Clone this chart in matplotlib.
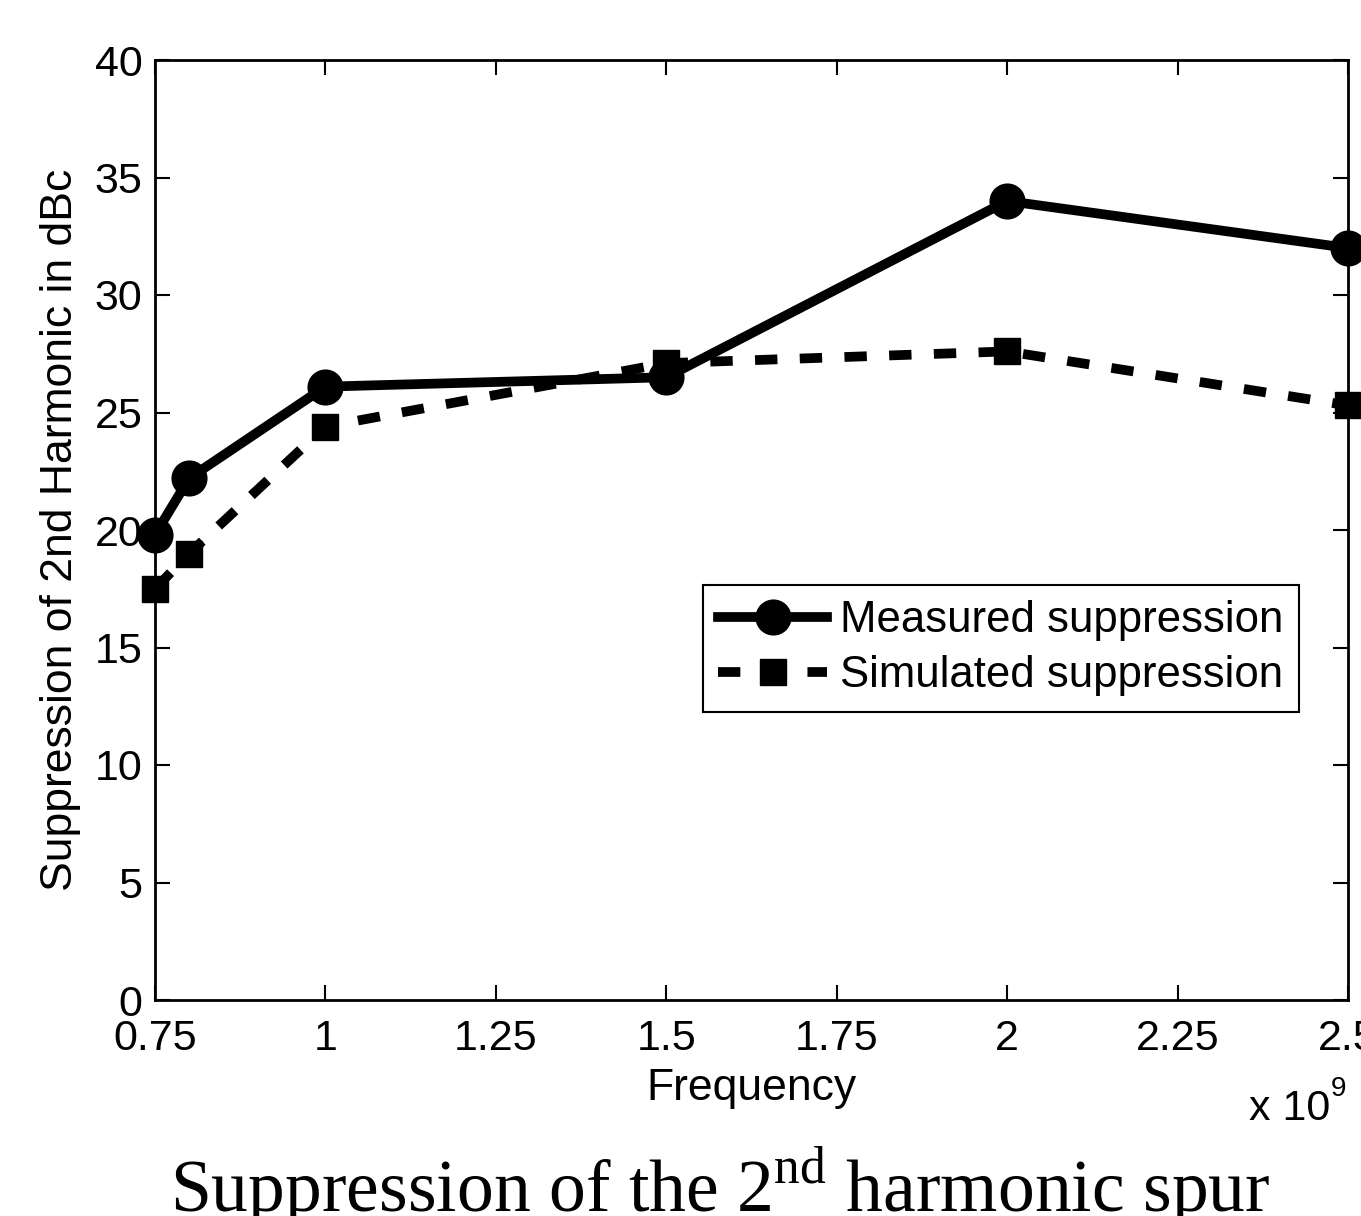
"""Suppression of the 2nd harmonic spur: measured vs simulated."""

import numpy as np
import matplotlib
matplotlib.use('Agg')
import matplotlib.pyplot as plt

plt.rcParams['font.family'] = ['Liberation Sans', 'DejaVu Sans']
plt.rcParams['mathtext.fontset'] = 'custom'
plt.rcParams['mathtext.rm'] = 'Liberation Serif'

# data
freq = [0.75e9, 0.8e9, 1.0e9, 1.5e9, 2.0e9, 2.5e9]
measured = [19.8, 22.2, 26.1, 26.5, 34.0, 32.0]
simulated = [17.5, 19.0, 24.4, 27.1, 27.6, 25.3]
xticks = [0.75e9, 1.0e9, 1.25e9, 1.5e9, 1.75e9, 2.0e9, 2.25e9, 2.5e9]
xtick_labels = ['0.75', '1', '1.25', '1.5', '1.75', '2', '2.25', '2.5']
yticks = [0, 5, 10, 15, 20, 25, 30, 35, 40]

FS = 32
TFS = 31

fig = plt.figure(figsize=(13.61, 12.16), dpi=100)
ax = fig.add_axes([155/1361, 1 - 1000/1216, (1348 - 155)/1361, 940/1216])

ax.plot(freq, measured, '-', color='black', lw=7, marker='o', ms=24,
        mfc='black', mec='black', mew=2, clip_on=False, zorder=3,
        label='Measured suppression')
ax.plot(freq, simulated, color='black', lw=7, dashes=(2.3, 2.3),
        marker='s', ms=19, mfc='black', mec='black', mew=1, clip_on=False,
        zorder=3, label='Simulated suppression')

ax.set_xlim(0.75e9, 2.5e9)
ax.set_ylim(0, 40)
ax.set_xticks(xticks)
ax.set_xticklabels(xtick_labels)
ax.set_yticks(yticks)
ax.tick_params(direction='in', length=11, width=1.5, labelsize=TFS,
               top=True, right=True)
ax.tick_params(axis='x', pad=14)
ax.tick_params(axis='y', pad=9)
for s in ax.spines.values():
    s.set_linewidth(2)

ax.set_xlabel('Frequency', fontsize=FS, labelpad=6)
ax.set_ylabel('Suppression of 2nd Harmonic in dBc', fontsize=FS, labelpad=10)

fig.text(1330/1361, 1 - 1120/1216, 'x 10', fontsize=TFS, ha='right',
         va='baseline')
fig.text(1331/1361, 1 - 1096/1216, '9', fontsize=20, ha='left',
         va='baseline')
fig.text(720/1361, 1 - 1212/1216, r'Suppression of the 2$^{\mathrm{nd}}$ harmonic spur',
         fontsize=53, ha='center', va='baseline', family='Liberation Serif')

leg = ax.legend(loc='upper left', bbox_to_anchor=(0.459, 0.4415),
                borderaxespad=0, fontsize=31.5, fancybox=False, framealpha=1,
                edgecolor='black', handlelength=2.5, handletextpad=0.3,
                labelspacing=0.32, borderpad=0.35)
leg.get_frame().set_linewidth(1.5)

fig.savefig('out.png', dpi=100)
plt.close()
